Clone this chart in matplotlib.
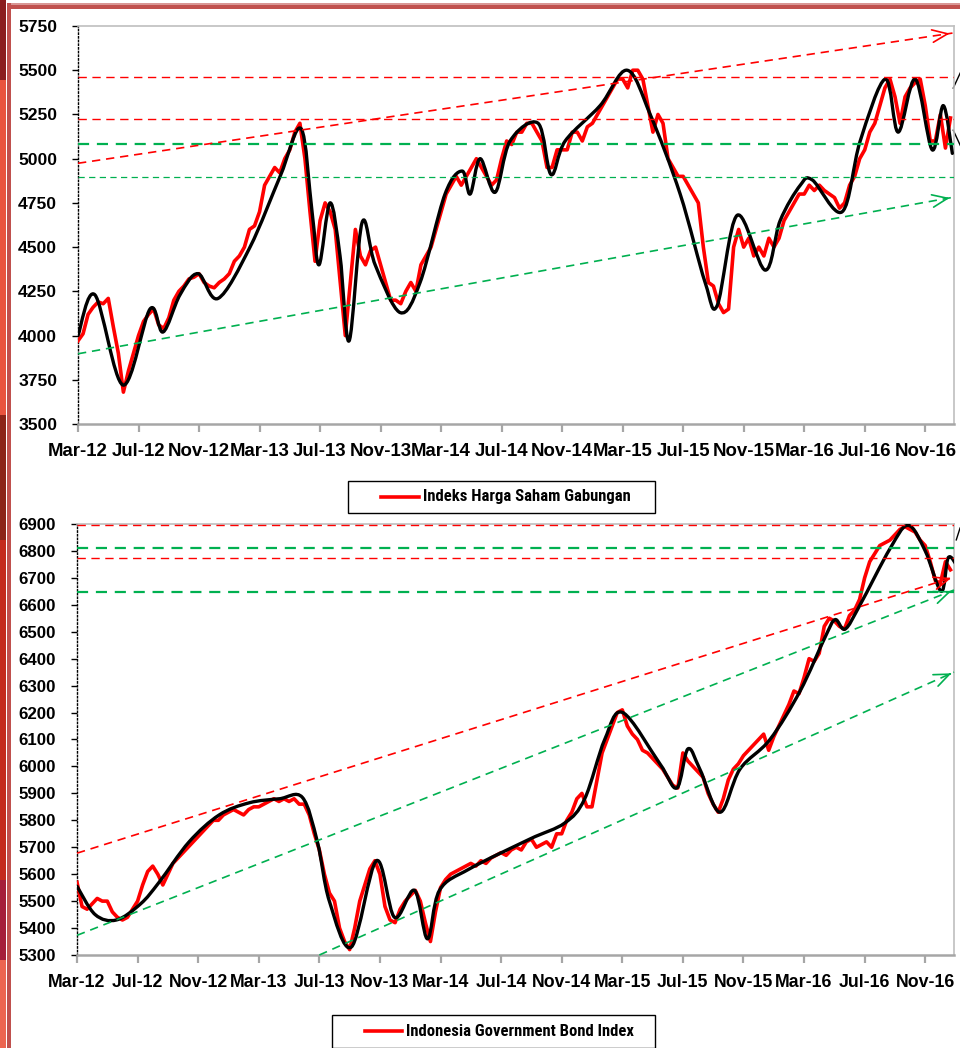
import numpy as np
import matplotlib
matplotlib.use("Agg")
import matplotlib.pyplot as plt
from matplotlib.path import Path
from matplotlib.patches import PathPatch, Rectangle
from matplotlib.lines import Line2D

plt.rcParams['font.family'] = ['Liberation Sans', 'DejaVu Sans']

# x axis: months counted from Mar-2012, three readings per month
tick_labels = ["Mar-12", "Jul-12", "Nov-12", "Mar-13", "Jul-13", "Nov-13", "Mar-14", "Jul-14",
               "Nov-14", "Mar-15", "Jul-15", "Nov-15", "Mar-16", "Jul-16", "Nov-16"]
tick_months = [0, 4, 8, 12, 16, 20, 24, 28, 32, 36, 40, 44, 48, 52, 56]

ihsg = [3970, 4010, 4120, 4160, 4190, 4180, 4210, 4050, 3900, 3680, 3800, 3900,
        4000, 4080, 4120, 4150, 4060, 4040, 4100, 4200, 4250, 4280, 4320, 4330,
        4350, 4300, 4280, 4270, 4300, 4320, 4350, 4420, 4450, 4500, 4600, 4620,
        4700, 4850, 4900, 4950, 4920, 5000, 5050, 5150, 5200, 5000, 4700, 4420,
        4650, 4750, 4700, 4600, 4300, 4000, 4300, 4600, 4450, 4400, 4480, 4500,
        4400, 4300, 4200, 4200, 4180, 4250, 4300, 4250, 4400, 4450, 4500, 4600,
        4700, 4800, 4850, 4900, 4850, 4900, 4950, 5000, 4950, 4900, 4850, 4880,
        5000, 5100, 5080, 5150, 5150, 5200, 5200, 5150, 5100, 4950, 4950, 5050,
        5050, 5050, 5150, 5150, 5100, 5180, 5200, 5250, 5300, 5350, 5400, 5450,
        5450, 5400, 5500, 5500, 5450, 5300, 5150, 5250, 5200, 5000, 4950, 4900,
        4900, 4850, 4800, 4750, 4500, 4300, 4280, 4180, 4130, 4150, 4500, 4600,
        4500, 4550, 4450, 4500, 4450, 4550, 4500, 4550, 4650, 4700, 4750, 4800,
        4800, 4850, 4820, 4850, 4820, 4800, 4780, 4720, 4750, 4850, 4900, 5000,
        5050, 5150, 5200, 5300, 5400, 5450, 5350, 5200, 5350, 5400, 5430, 5450,
        5300, 5100, 5100, 5250, 5060, 5230]

bond = [5570, 5480, 5470, 5490, 5510, 5500, 5500, 5460, 5440, 5430, 5440, 5470,
        5500, 5560, 5610, 5630, 5600, 5560, 5600, 5640, 5660, 5680, 5700, 5720,
        5740, 5760, 5780, 5800, 5800, 5820, 5830, 5840, 5830, 5820, 5840, 5850,
        5850, 5860, 5870, 5880, 5870, 5880, 5870, 5880, 5860, 5860, 5820, 5750,
        5690, 5600, 5530, 5500, 5400, 5350, 5320, 5400, 5500, 5560, 5620, 5650,
        5600, 5480, 5430, 5420, 5470, 5500, 5520, 5540, 5500, 5420, 5350, 5460,
        5550, 5580, 5600, 5610, 5620, 5630, 5640, 5630, 5650, 5640, 5660, 5670,
        5680, 5670, 5690, 5700, 5690, 5720, 5730, 5700, 5710, 5720, 5700, 5750,
        5750, 5800, 5830, 5880, 5900, 5850, 5850, 5950, 6050, 6100, 6150, 6200,
        6210, 6150, 6120, 6100, 6060, 6050, 6030, 6010, 5990, 5960, 5930, 5920,
        6050, 6020, 6000, 5980, 5960, 5900, 5860, 5830, 5880, 5950, 5990, 6010,
        6040, 6060, 6080, 6100, 6120, 6060, 6110, 6150, 6190, 6230, 6280, 6270,
        6330, 6400, 6390, 6420, 6520, 6550, 6540, 6520, 6510, 6560, 6580, 6620,
        6700, 6760, 6790, 6820, 6830, 6840, 6860, 6880, 6890, 6880, 6870, 6840,
        6820, 6760, 6690, 6680, 6760, 6730]

# smoothed trend (black), key points: month, value
ihsg_trend_m = [0, 1.12, 2.98, 4.76, 5.62, 6.74, 7.93, 9.26, 11.37, 13.36, 14.74, 15.47,
                15.93, 16.66, 17.32, 17.92, 18.78, 19.64, 21.29, 22.61, 24.26, 25.39,
                25.92, 26.58, 27.57, 28.56, 30.41, 31.27, 32.2, 34.51, 36.3, 37.82,
                39.8, 41.45, 42.25, 43.57, 45.42, 46.41, 47.74, 48.53, 50.51, 51.7,
                53.36, 54.21, 55.34, 56.46, 57.19, 57.79]
ihsg_trend_v = [4000, 4230, 3720, 4150, 4020, 4230, 4350, 4210, 4500, 4900, 5170, 4700,
                4400, 4750, 4450, 3970, 4640, 4400, 4130, 4300, 4800, 4930,
                4800, 5000, 4810, 5100, 5200, 4910, 5100, 5300, 5500, 5250,
                4800, 4300, 4170, 4680, 4370, 4650, 4850, 4880, 4700, 5100,
                5450, 5150, 5450, 5050, 5300, 5030]

bond_trend_m = [0, 1.2, 2.6, 4.2, 5.42, 7.4, 9.39, 11.37, 13.36, 14.88, 15.87, 16.66,
                18.12, 19.77, 20.96, 22.28, 23.14, 23.93, 25.92, 29.88, 32.2, 33.52,
                34.84, 36.03, 38.48, 39.6, 40.33, 41.12, 42.45, 43.77, 45.75, 47.74,
                49.39, 50.05, 50.71, 51.7, 53.69, 54.88, 56.0, 57.06, 57.52, 58.1]
bond_trend_v = [5555, 5450, 5430, 5490, 5570, 5720, 5820, 5865, 5880, 5885, 5720, 5500,
                5330, 5650, 5440, 5540, 5360, 5540, 5620, 5730, 5790, 5880,
                6100, 6200, 6010, 5920, 6065, 5990, 5830, 5990, 6100, 6280,
                6480, 6545, 6510, 6600, 6810, 6895, 6800, 6650, 6775, 6745]

# support / resistance levels
ihsg_red_levels = [5460, 5225]
ihsg_green_levels = [(5081, 1.6), (4894, 0.9)]
ihsg_red_trend = [(0, 4974), (57.8, 5710)]
ihsg_green_trend = [(0, 3897), (57.8, 4781)]

bond_red_levels = [6896, 6774]
bond_green_levels = [(6811, 1.6), (6648, 1.6)]
bond_red_trend = [(0, 5678), (57.9, 6703)]
bond_green_trends = [[(0, 5373), (57.9, 6655)], [(16.0, 5300), (57.9, 6350)]]

RED = '#FF0000'
GREEN = '#00B050'
W, H = 960, 1048

fig = plt.figure(figsize=(9.6, 10.48), dpi=100)


def px_axes(x0, y0, x1, y1):
    return fig.add_axes([x0 / W, 1 - y1 / H, (x1 - x0) / W, (y1 - y0) / H])


def px_rect(x0, y0, w, h, color):
    fig.add_artist(Rectangle((x0 / W, 1 - (y0 + h) / H), w / W, h / H,
                             transform=fig.transFigure, color=color, lw=0))


def smooth_curve(ax, xs, ys):
    p = np.column_stack([xs, ys]).astype(float)
    n = len(p)
    verts = [p[0]]
    codes = [Path.MOVETO]
    for i in range(n - 1):
        p0 = p[max(i - 1, 0)]
        p1 = p[i]
        p2 = p[i + 1]
        p3 = p[min(i + 2, n - 1)]
        verts += [p1 + (p2 - p0) / 6, p2 - (p3 - p1) / 6, p2]
        codes += [Path.CURVE4] * 3
    patch = PathPatch(Path(verts, codes), fill=False, edgecolor='black', lw=2.4,
                      capstyle='round', joinstyle='round', zorder=4)
    ax.add_patch(patch)


def arrow_line(ax, p0, p1, color):
    ax.plot([p0[0], p1[0]], [p0[1], p1[1]], color=color, lw=1.2,
            dashes=(5, 3.5), zorder=6, clip_on=False)
    dx = p1[0] - p0[0]
    dy = p1[1] - p0[1]
    ax.annotate('', xy=p1, xytext=(p1[0] - dx * 0.01, p1[1] - dy * 0.01),
                arrowprops=dict(arrowstyle='->,head_length=1.1,head_width=0.45',
                                color=color, lw=1.2), zorder=6, annotation_clip=False)


def style(ax, ymin, ymax, step, xsize, ysize):
    ax.set_xlim(0, 57.9)
    ax.set_ylim(ymin, ymax)
    ax.set_yticks(np.arange(ymin, ymax + 1, step))
    ax.set_xticks(tick_months)
    ax.set_xticklabels(tick_labels)
    ax.spines['left'].set_linestyle(':')
    ax.spines['left'].set_linewidth(1.0)
    ax.spines['left'].set_color('black')
    ax.spines['bottom'].set_color('#A6A6A6')
    ax.spines['bottom'].set_linewidth(1.8)
    for s in ['top', 'right']:
        ax.spines[s].set_color('#BFBFBF')
        ax.spines[s].set_linewidth(1.2)
    ax.tick_params(axis='y', length=4, width=1, color='black', pad=11, labelsize=ysize)
    ax.tick_params(axis='x', length=6, width=1.6, color='#A6A6A6', pad=8, labelsize=xsize)
    for lab in ax.get_xticklabels() + ax.get_yticklabels():
        lab.set_fontweight('bold')


t = np.arange(len(ihsg)) / 3.0

# ---- top panel: IHSG
ax1 = px_axes(78, 26, 954, 424)
ax1.plot(t, ihsg, color=RED, lw=2.6, zorder=3)
smooth_curve(ax1, ihsg_trend_m, ihsg_trend_v)
for lv in ihsg_red_levels:
    ax1.axhline(lv, color=RED, lw=1.0, dashes=(6, 4), zorder=6)
for lv, w in ihsg_green_levels:
    ax1.axhline(lv, color=GREEN, lw=w, dashes=(5, 3.5), zorder=6)
arrow_line(ax1, ihsg_red_trend[0], ihsg_red_trend[1], RED)
arrow_line(ax1, ihsg_green_trend[0], ihsg_green_trend[1], GREEN)
ax1.plot([57.85, 58.31], [5399, 5484], color='black', lw=1, clip_on=False)
ax1.plot([57.85, 58.31], [5161, 5076], color='black', lw=1, clip_on=False)
style(ax1, 3500, 5750, 250, 13.4, 12.6)

# ---- bottom panel: bond index
ax2 = px_axes(77, 524, 954, 955)
ax2.plot(t, bond, color=RED, lw=2.6, zorder=3)
smooth_curve(ax2, bond_trend_m, bond_trend_v)
for lv in bond_red_levels:
    ax2.axhline(lv, color=RED, lw=1.0, dashes=(6, 4), zorder=6)
for lv, w in bond_green_levels:
    ax2.axhline(lv, color=GREEN, lw=w, dashes=(5, 3.5), zorder=6)
arrow_line(ax2, bond_red_trend[0], bond_red_trend[1], RED)
for tr in bond_green_trends:
    arrow_line(ax2, tr[0], tr[1], GREEN)
ax2.plot([58.05, 58.3], [6841, 6885], color='black', lw=1, clip_on=False)
style(ax2, 5300, 6900, 100, 12.8, 12.2)

# ---- legends (boxes below each panel)
narrow = ['Roboto Condensed', 'Archivo Narrow', 'Liberation Sans']
fig.add_artist(Rectangle((348 / W, 1 - 513 / H), 307 / W, 32 / H, transform=fig.transFigure,
                         facecolor='white', edgecolor='black', lw=1.0))
fig.add_artist(Line2D([381 / W, 419 / W], [1 - 497 / H] * 2, transform=fig.transFigure,
                      color=RED, lw=2.6))
fig.text(423 / W, 1 - 497 / H, 'Indeks Harga Saham Gabungan', family=narrow,
         fontweight='bold', fontsize=12, va='center', ha='left')

fig.add_artist(Rectangle((332 / W, 1 - 1048 / H), 323 / W, 33 / H, transform=fig.transFigure,
                         facecolor='white', edgecolor='black', lw=1.0))
fig.add_artist(Line2D([365 / W, 402 / W], [1 - 1031 / H] * 2, transform=fig.transFigure,
                      color=RED, lw=2.6))
fig.text(406 / W, 1 - 1031 / H, 'Indonesia Government Bond Index', family=narrow,
         fontweight='bold', fontsize=12, va='center', ha='left')

# ---- slide frame decoration
px_rect(7, 3, 953, 6, '#C0504D')
px_rect(7, 3, 953, 1.5, '#D99694')
px_rect(7, 3, 4, 1045, '#C0504D')
for y0, h, c in [(0, 80, '#8B1E1E'), (80, 335, '#E9543F'), (415, 125, '#8C2418'),
                 (540, 340, '#C42B1D'), (880, 80, '#A51F3A'), (960, 88, '#EC6550')]:
    px_rect(0, y0, 6, h, c)

fig.savefig('out.png', dpi=100)
